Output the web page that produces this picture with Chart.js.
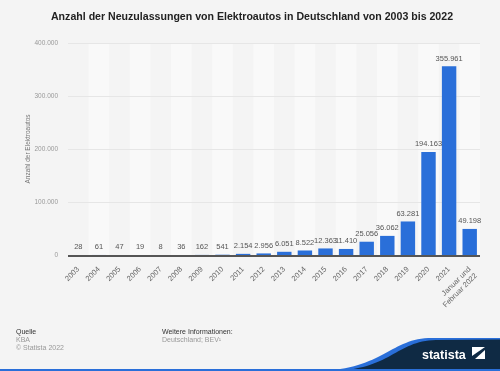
<!DOCTYPE html>
<html>
<head>
<meta charset="utf-8">
<script src="https://cdn.jsdelivr.net/npm/chart.js@4"></script>
<style>
  html, body { margin: 0; padding: 0; background: #f4f4f4; }
  #wrap { width: 500px; height: 371px; }
</style>
</head>
<body>
<div id="wrap"><canvas id="myChart" width="500" height="371"></canvas></div>
<script>
let years = ['2003', '2004', '2005', '2006', '2007', '2008', '2009', '2010', '2011', '2012',
  '2013', '2014', '2015', '2016', '2017', '2018', '2019', '2020', '2021', ['Januar und', 'Februar 2022']];
let zulassungen = [28, 61, 47, 19, 8, 36, 162, 541, 2154, 2956,
  6051, 8522, 12363, 11410, 25056, 36062, 63281, 194163, 355961, 49198];
let yTicks = [0, 100000, 200000, 300000, 400000];

function fmt(v) {
  return v.toLocaleString('de-DE');
}

// Streifen hinter den Balken, Werte über den Balken, Fußzeile
let statistaPlugin = {
  id: 'statista',
  beforeDatasetsDraw(chart) {
    let ctx = chart.ctx;
    let a = chart.chartArea;
    let x = chart.scales.x;
    let step = (a.right - a.left) / years.length;
    ctx.save();
    ctx.fillStyle = '#f9f9f9';
    for (let i = 1; i < years.length; i += 2) {
      let cx = x.getPixelForValue(i);
      ctx.fillRect(cx - step / 2, a.top, step, a.bottom - a.top);
    }
    // Gitterlinien über die Streifen
    let y = chart.scales.y;
    ctx.strokeStyle = '#e6e6e6';
    ctx.lineWidth = 1;
    yTicks.forEach(t => {
      if (t === 0) return;
      let py = Math.round(y.getPixelForValue(t)) + 0.5;
      ctx.beginPath();
      ctx.moveTo(a.left, py);
      ctx.lineTo(a.right, py);
      ctx.stroke();
    });
    ctx.restore();
  },
  afterDatasetsDraw(chart) {
    let ctx = chart.ctx;
    let a = chart.chartArea;
    let meta = chart.getDatasetMeta(0);
    ctx.save();
    // Nulllinie
    ctx.strokeStyle = '#555';
    ctx.lineWidth = 2;
    ctx.beginPath();
    ctx.moveTo(a.left, a.bottom + 1);
    ctx.lineTo(a.right, a.bottom + 1);
    ctx.stroke();
    ctx.fillStyle = '#555';
    ctx.font = '7.5px "Liberation Sans", Arial, sans-serif';
    ctx.textAlign = 'center';
    ctx.textBaseline = 'bottom';
    meta.data.forEach((bar, i) => {
      ctx.fillText(fmt(zulassungen[i]), bar.x, bar.y - 4);
    });

    // Fußzeile
    ctx.textAlign = 'left';
    ctx.textBaseline = 'middle';
    ctx.font = '7px "Liberation Sans", Arial, sans-serif';
    ctx.fillStyle = '#333';
    ctx.fillText('Quelle', 16, 332);
    ctx.fillText('Weitere Informationen:', 162, 332);
    ctx.fillStyle = '#999';
    ctx.fillText('KBA', 16, 340);
    ctx.fillText('\u00a9 Statista 2022', 16, 348);
    ctx.fillText('Deutschland; BEV\u00b9', 162, 340);

    // Logo-Welle
    ctx.fillStyle = '#2a6fd9';
    ctx.beginPath();
    ctx.moveTo(318, 371);
    ctx.bezierCurveTo(385, 369, 390, 338, 432, 338);
    ctx.lineTo(500, 338);
    ctx.lineTo(500, 371);
    ctx.closePath();
    ctx.fill();
    ctx.fillStyle = '#0f2a44';
    ctx.beginPath();
    ctx.moveTo(330, 371);
    ctx.bezierCurveTo(392, 370, 395, 341, 436, 340);
    ctx.lineTo(500, 339.5);
    ctx.lineTo(500, 371);
    ctx.closePath();
    ctx.fill();
    ctx.fillStyle = '#2a6fd9';
    ctx.fillRect(0, 369, 500, 2);
    ctx.fillStyle = '#ffffff';
    ctx.font = 'bold 12.5px "Liberation Sans Narrow", "Liberation Sans", Arial, sans-serif';
    ctx.textBaseline = 'alphabetic';
    ctx.fillText('statista', 422, 359);
    ctx.beginPath();
    ctx.moveTo(472, 347);
    ctx.lineTo(485, 347);
    ctx.lineTo(472, 356);
    ctx.closePath();
    ctx.fill();
    ctx.beginPath();
    ctx.moveTo(485, 350);
    ctx.lineTo(485, 359);
    ctx.lineTo(475, 359);
    ctx.closePath();
    ctx.fill();
    ctx.restore();
  }
};

let chart = document.getElementById('myChart');
let barConfig = {
  type: 'bar',
  data: {
    labels: years,
    datasets: [{
      data: zulassungen,
      backgroundColor: '#2a6fd9',
      categoryPercentage: 0.7,
      barPercentage: 1.0
    }]
  },
  options: {
    responsive: false,
    animation: false,
    layout: {
      padding: { left: 24, right: 20, top: 0, bottom: 0 }
    },
    plugins: {
      legend: { display: false },
      tooltip: { enabled: false },
      title: {
        display: true,
        text: 'Anzahl der Neuzulassungen von Elektroautos in Deutschland von 2003 bis 2022',
        color: '#222',
        font: { family: '"Liberation Sans", Arial, sans-serif', size: 10.6, weight: 'bold' },
        padding: { top: 11, bottom: 19.3 }
      }
    },
    scales: {
      x: {
        grid: { display: false },
        border: { display: false },
        ticks: {
          color: '#666',
          font: { family: '"Liberation Sans", Arial, sans-serif', size: 7.5 },
          minRotation: 45,
          maxRotation: 45,
          autoSkip: false,
          padding: 2
        },
        afterFit: function (scale) {
          scale.height = 116;
        }
      },
      y: {
        min: 0,
        max: 400000,
        grid: { display: false, drawTicks: false },
        border: { display: false },
        afterBuildTicks: function (scale) {
          scale.ticks = yTicks.map(v => ({ value: v }));
        },
        ticks: {
          color: '#999',
          font: { family: '"Liberation Sans", Arial, sans-serif', size: 6.5 },
          padding: 10,
          callback: function (value) {
            return fmt(value);
          }
        },
        title: {
          display: true,
          text: 'Anzahl der Elektroautos',
          color: '#777',
          font: { family: '"Liberation Sans", Arial, sans-serif', size: 6.5 },
          padding: 0
        },
        afterFit: function (scale) {
          scale.width = 44;
        }
      }
    }
  },
  plugins: [statistaPlugin]
};
let barChart = new Chart(chart, barConfig);
</script>
</body>
</html>
